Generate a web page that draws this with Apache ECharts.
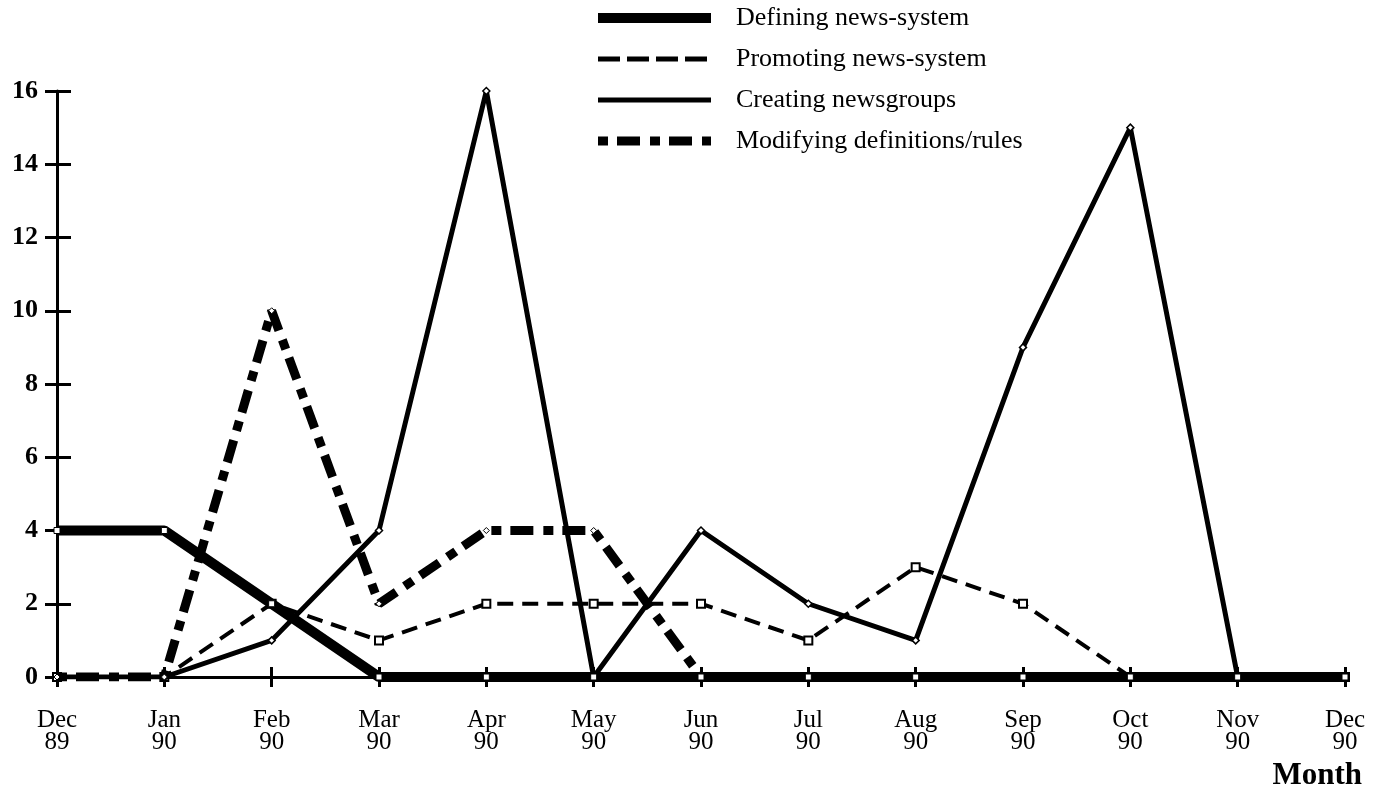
<!DOCTYPE html>
<html>
<head>
<meta charset="utf-8">
<script src="https://cdn.jsdelivr.net/npm/echarts@6/dist/echarts.min.js"></script>
<style>html,body{margin:0;padding:0;background:#fff}#c{width:1373px;height:793px}</style>
</head>
<body>
<div id="c"></div>
<script>
const months = ['Dec\n89','Jan\n90','Feb\n90','Mar\n90','Apr\n90','May\n90','Jun\n90','Jul\n90','Aug\n90','Sep\n90','Oct\n90','Nov\n90','Dec\n90'];
const yTicks = [0,2,4,6,8,10,12,14,16];
const defining  = [4,4,2,0,0,0,0,0,0,0,0,0,0];
const promoting = [0,0,2,1,2,2,2,1,3,2,0,0,0];
const creating  = [0,0,1,4,16,0,4,2,1,9,15,0,0];
const modifying = [0,0,10,2,4,4,0,0,0,0,0,0,0];
const seriesNames = ['Defining news-system','Promoting news-system','Creating newsgroups','Modifying definitions/rules'];

const font = '"Liberation Serif","Times New Roman",serif';
const chart = echarts.init(document.getElementById('c'));
const yMin = yTicks[0], yMax = yTicks[yTicks.length-1], yStep = yTicks[1]-yTicks[0];

const styles = {
  defining:  {color: '#000', width: 10, type: 'solid', cap: 'butt'},
  promoting: {color: '#000', width: 4, type: [16, 9], cap: 'butt'},
  creating:  {color: '#000', width: 5, type: 'solid', cap: 'butt'},
  modifying: {color: '#000', width: 9, type: [10, 9, 23, 10], cap: 'butt'}
};
const legendStyles = {
  defining:  {color: '#000', width: 10, type: 'solid', cap: 'butt'},
  promoting: {color: '#000', width: 5, type: [22, 7], cap: 'butt'},
  creating:  {color: '#000', width: 5, type: 'solid', cap: 'butt'},
  modifying: {color: '#000', width: 9, type: [10, 9, 23, 10], cap: 'butt'}
};

chart.setOption({
  backgroundColor: '#fff',
  animation: false,
  grid: {left: 57, right: 28, top: 91, bottom: 116, containLabel: false},
  legend: {
    orient: 'vertical',
    left: 593, top: 5, padding: 0,
    itemWidth: 113, itemHeight: 14, itemGap: 15,
    itemStyle: {opacity: 0},
    textStyle: {fontFamily: font, fontSize: 26, color: '#000', padding: [0,0,0,20]},
    data: [
      {name: seriesNames[0], lineStyle: legendStyles.defining},
      {name: seriesNames[1], lineStyle: legendStyles.promoting},
      {name: seriesNames[2], lineStyle: legendStyles.creating},
      {name: seriesNames[3], lineStyle: legendStyles.modifying}
    ]
  },
  xAxis: [{
    type: 'category', data: months, boundaryGap: false,
    axisLine: {lineStyle: {color: '#000', width: 3}},
    axisTick: {length: 10, lineStyle: {color: '#000', width: 3}},
    axisLabel: {fontFamily: font, fontSize: 25, color: '#000', lineHeight: 22, margin: 32, interval: 0}
  }, {
    type: 'category', data: months, boundaryGap: false, position: 'bottom',
    axisLine: {show: false},
    axisTick: {inside: true, length: 10, lineStyle: {color: '#000', width: 3}},
    axisLabel: {show: false}
  }],
  yAxis: [{
    type: 'value', min: yMin, max: yMax, interval: yStep,
    splitLine: {show: false},
    axisLine: {show: true, lineStyle: {color: '#000', width: 3}},
    axisTick: {show: true, length: 12, lineStyle: {color: '#000', width: 3}},
    axisLabel: {fontFamily: font, fontSize: 26, fontWeight: 'bold', color: '#000', margin: 19}
  }, {
    type: 'value', min: yMin, max: yMax, interval: yStep, position: 'left',
    splitLine: {show: false},
    axisLine: {show: false},
    axisTick: {show: true, inside: true, length: 14, lineStyle: {color: '#000', width: 3}},
    axisLabel: {show: false}
  }],
  graphic: [{
    type: 'text', right: 11, top: 760,
    style: {text: 'Month', fontFamily: font, fontSize: 31, fontWeight: 'bold', fill: '#000'}
  }],
  series: [
    {name: seriesNames[2], type: 'line', data: creating, z: 3,
     symbol: 'diamond', symbolSize: 7,
     itemStyle: {color: '#fff', borderColor: '#000', borderWidth: 1.5},
     lineStyle: styles.creating},
    {name: seriesNames[1], type: 'line', data: promoting, z: 4,
     symbol: 'rect', symbolSize: 8,
     itemStyle: {color: '#fff', borderColor: '#000', borderWidth: 2},
     lineStyle: styles.promoting},
    {name: seriesNames[3], type: 'line', data: modifying, z: 5,
     symbol: 'diamond', symbolSize: 6,
     itemStyle: {color: '#fff', borderColor: '#000', borderWidth: 1},
     lineStyle: styles.modifying},
    {name: seriesNames[0], type: 'line', data: defining, z: 6,
     symbol: 'rect', symbolSize: 6,
     itemStyle: {color: '#fff', borderColor: '#000', borderWidth: 1},
     lineStyle: styles.defining}
  ]
});
</script>
</body>
</html>
